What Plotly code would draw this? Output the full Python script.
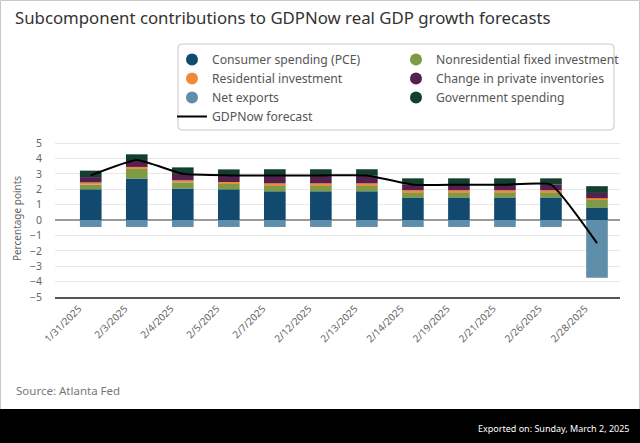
import plotly.graph_objects as go

dates = ["1/31/2025", "2/3/2025", "2/4/2025", "2/5/2025", "2/7/2025", "2/12/2025",
         "2/13/2025", "2/14/2025", "2/19/2025", "2/21/2025", "2/26/2025", "2/28/2025"]
pce = [2.0, 2.7, 2.05, 2.0, 1.87, 1.87, 1.87, 1.47, 1.47, 1.47, 1.47, 0.82]
nonres = [0.30, 0.62, 0.40, 0.36, 0.40, 0.40, 0.40, 0.35, 0.35, 0.35, 0.35, 0.49]
resid = [0.14, 0.13, 0.13, 0.11, 0.11, 0.11, 0.11, 0.11, 0.11, 0.11, 0.11, 0.11]
invent = [0.35, 0.38, 0.42, 0.42, 0.52, 0.52, 0.50, 0.39, 0.39, 0.39, 0.39, 0.34]
govt = [0.42, 0.44, 0.42, 0.40, 0.40, 0.40, 0.42, 0.39, 0.39, 0.39, 0.39, 0.44]
netexp = [-0.45, -0.45, -0.45, -0.45, -0.45, -0.45, -0.45, -0.45, -0.45, -0.45, -0.45, -3.75]
gdpnow = [2.9, 3.9, 3.0, 2.9, 2.9, 2.9, 2.9, 2.3, 2.3, 2.3, 2.3, -1.5]

# (name, values, colour, legend column) in stacking order
series = [
    ("Consumer spending (PCE)", pce, "#114a6e", "legend"),
    ("Nonresidential fixed investment", nonres, "#7e9a45", "legend2"),
    ("Residential investment", resid, "#ef8a3c", "legend"),
    ("Change in private inventories", invent, "#56204e", "legend2"),
    ("Net exports", netexp, "#5f8eab", "legend"),
    ("Government spending", govt, "#123f2e", "legend2"),
]

FONT = "Noto Sans"
GRAY = "#666666"

fig = go.Figure()
for name, vals, col, lg in series:
    fig.add_trace(go.Bar(x=dates, y=vals, name=name, marker_color=col,
                         marker_line_width=0, showlegend=False, legendgroup=name))
# legend entries with circle symbols, column-wise
for lg in ("legend", "legend2"):
    for name, vals, col, l in series:
        if l != lg:
            continue
        fig.add_trace(go.Scatter(x=[dates[0]], y=[None], mode="markers", name=name,
                                 marker=dict(symbol="circle", size=12, color=col),
                                 legendgroup=name, showlegend=True, legend=lg))
fig.add_trace(go.Scatter(x=dates, y=gdpnow, mode="lines", name="GDPNow forecast",
                         line=dict(color="black", width=2, shape="spline", smoothing=0.4),
                         legend="legend"))

# pixel -> paper helpers (plot area x 55..620, y 140..297)
L, R, T, B = 55, 620, 140, 297
def px(x):
    return (x - L) / (R - L)
def py(y):
    return (B - y) / (B - T)

shapes = [
    dict(type="rect", xref="paper", yref="paper", x0=px(0.5), x1=px(639.5), y0=py(0.5), y1=py(410),
         line=dict(color="#c8c8c8", width=1), fillcolor="rgba(0,0,0,0)", layer="below"),
    dict(type="rect", xref="paper", yref="paper", x0=px(0), x1=px(640), y0=py(409), y1=py(443),
         line=dict(width=0), fillcolor="black", layer="below"),
]
# rounded legend box
x0, x1, y0, y1, r = px(178), px(614), py(44), py(130), 4
rx, ry = r / (R - L), r / (B - T)
path = (f"M {x0+rx},{y0} L {x1-rx},{y0} Q {x1},{y0} {x1},{y0-ry} L {x1},{y1+ry} "
        f"Q {x1},{y1} {x1-rx},{y1} L {x0+rx},{y1} Q {x0},{y1} {x0},{y1+ry} "
        f"L {x0},{y0-ry} Q {x0},{y0} {x0+rx},{y0} Z")
shapes.append(dict(type="path", xref="paper", yref="paper", path=path,
                   line=dict(color="#c8c8c8", width=1), fillcolor="white", layer="below"))

annotations = [
    dict(text="Subcomponent contributions to GDPNow real GDP growth forecasts",
         xref="paper", yref="paper", x=px(13), y=py(18), xanchor="left", yanchor="middle",
         showarrow=False, font=dict(family=FONT, size=16.8, color="#333333")),
    dict(text="Source: Atlanta Fed", xref="paper", yref="paper", x=px(14), y=py(390),
         xanchor="left", yanchor="middle", showarrow=False,
         font=dict(family=FONT, size=11.5, color="#777777")),
    dict(text="Exported on: Sunday, March 2, 2025", xref="paper", yref="paper", x=px(632),
         y=py(428), xanchor="right", yanchor="middle", showarrow=False,
         font=dict(family=FONT, size=9, color="white")),
]

leg_common = dict(orientation="v", yanchor="top", xanchor="left", bgcolor="rgba(0,0,0,0)",
                  borderwidth=0, font=dict(family=FONT, size=12.2, color="#555555"),
                  itemwidth=30, traceorder="normal", tracegroupgap=0)

fig.update_layout(
    width=640, height=443,
    margin=dict(l=L, r=640 - R, t=T, b=443 - B, pad=0),
    paper_bgcolor="white", plot_bgcolor="white",
    barmode="relative", bargap=0.53,
    font=dict(family=FONT, color=GRAY),
    shapes=shapes, annotations=annotations,
    legend=dict(x=px(172), y=py(45), **leg_common),
    legend2=dict(x=px(396), y=py(45), **leg_common),
    xaxis=dict(type="category", tickangle=-45, tickfont=dict(size=10, color=GRAY),
               showgrid=False, showline=True, linecolor="#555555", linewidth=2,
               ticks="", ticklabelstandoff=0, ticklabelshift=-12),
    yaxis=dict(range=[-5, 5.2], dtick=1, tick0=0, gridcolor="#e8e8e8", gridwidth=1,
               zeroline=True, zerolinecolor="#9a9a9a", zerolinewidth=1.5,
               tickfont=dict(size=10.5, color=GRAY), ticklabelstandoff=12,
               title=dict(text="Percentage points", font=dict(size=10, color=GRAY), standoff=6)),
    showlegend=True,
)

fig.write_html("out.html", config={"displayModeBar": False},
               post_script="document.body.style.margin='0';")
